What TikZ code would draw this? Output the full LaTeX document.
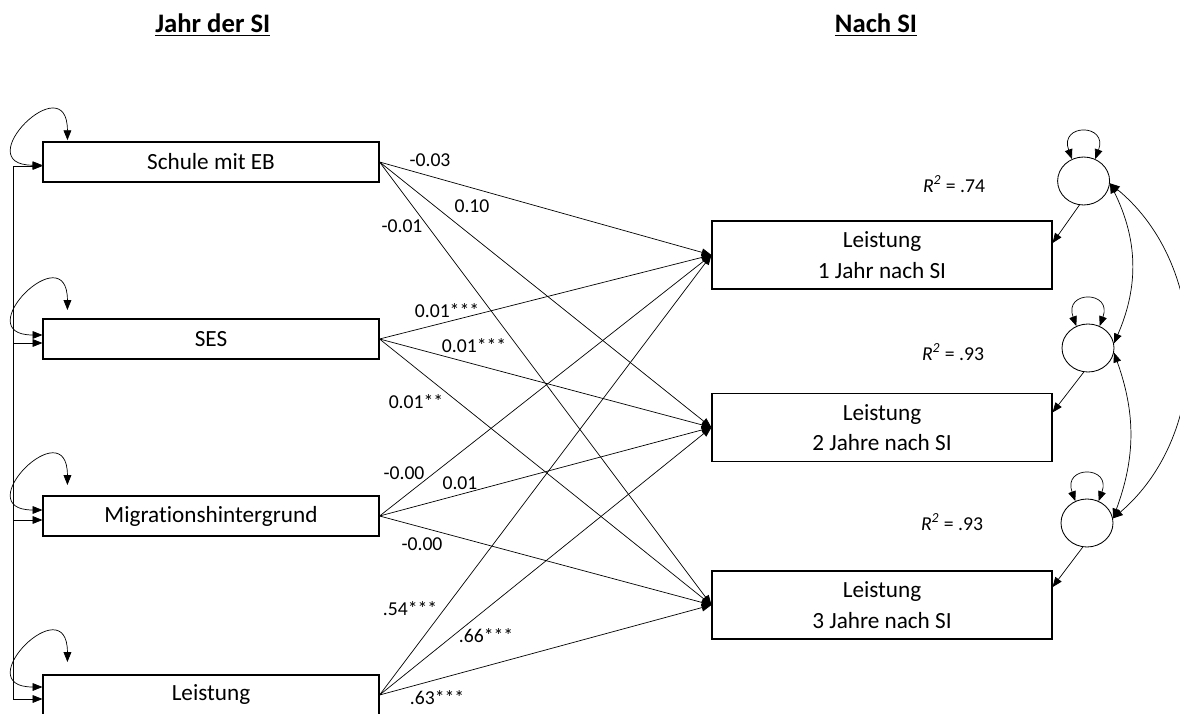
\documentclass[tikz,border=0pt]{standalone}
\usepackage{fontspec}
\setmainfont[Ligatures=NoCommon]{Carlito}
\usepackage{tikz}
\usetikzlibrary{arrows.meta, positioning, calc, shapes.geometric}
\tikzset{
  varbox/.style={rectangle, draw, line width=0.8pt, minimum width=8.4cm,
    minimum height=1.0cm, inner sep=0pt, font=\fontsize{16.5}{19}\selectfont},
  outbox/.style={rectangle, draw, line width=0.8pt, minimum width=8.5cm,
    minimum height=1.7cm, inner sep=0pt, align=center, font=\fontsize{16.5}{21.5}\selectfont},
  resid/.style={ellipse, draw, line width=0.6pt, minimum width=1.3cm,
    minimum height=1.2cm, inner sep=0pt},
  arrow/.style={-{Triangle[length=7pt,width=5.5pt]}, line width=0.5pt},
  dblarrow/.style={{Triangle[length=7pt,width=5.5pt]}-{Triangle[length=7pt,width=5.5pt]}, line width=0.5pt},
  line/.style={line width=0.5pt},
  coef/.style={inner sep=0pt, font=\fontsize{14}{16}\selectfont},
  heading/.style={inner sep=0pt, font=\fontsize{19}{22}\selectfont\bfseries}
}
\begin{document}
\begin{tikzpicture}
  \useasboundingbox (0,0) rectangle (29.5,17.825);

  % Headings
  \node[heading] (head1) at (5.32,17.2) {\underline{Jahr der SI}};
  \node[heading] (head2) at (21.9,17.2) {\underline{Nach SI}};

  % Predictors
  \node[varbox] (L1) at (5.275,13.775) {Schule mit EB};
  \node[varbox] (L2) at (5.275,9.35) {SES};
  \node[varbox] (L3) at (5.275,4.925) {Migrationshintergrund};
  \node[varbox] (L4) at (5.275,0.45) {Leistung};

  % Outcomes
  \node[outbox] (R1) at (22.05,11.45) {Leistung\\1 Jahr nach SI};
  \node[outbox] (R2) at (22.05,7.14) {Leistung\\2 Jahre nach SI};
  \node[outbox] (R3) at (22.05,2.7) {Leistung\\3 Jahre nach SI};

  % Residuals
  \node[resid] (E1) at (27.09,13.3) {};
  \node[resid] (E2) at (27.2,9.125) {};
  \node[resid] (E3) at (27.175,4.75) {};

  % Paths
  \foreach \i in {1,...,4}
    \foreach \j in {1,2,3}
      \draw[arrow] (L\i.east) -- (R\j.west);

  % Covariances among predictors
  \coordinate (bus) at (0.325,0);
  \foreach \i in {1,...,4}
    \coordinate (in\i) at ($(L\i.west)+(0,-0.1)$);
  \draw[line] (bus |- in1) -- (bus |- in4);
  \foreach \i in {1,...,4}
    \draw[arrow] (bus |- in\i) -- (in\i);

  % Variances
  \foreach \i/\dy in {1/-0.08, 2/0.1, 3/0.15, 4/0.2} {
    \coordinate (lp\i) at ($(L\i.west)+(0,\dy)$);
    \draw[dblarrow] ($(lp\i)+(0.625,0.625)$) .. controls +(0,1.9) and +(-1.9,0) .. (lp\i);
  }
  \foreach \k in {1,2,3}
    \draw[dblarrow] (E\k.118) to[out=110, in=70, looseness=4.2] (E\k.62);

  % Residual paths
  \draw[arrow] (E1.-100) -- (R1.4);
  \draw[arrow] (E2.-100) -- (R2.5);
  \draw[arrow] (E3.-100) -- (R3.6);

  % Residual covariances
  \draw[dblarrow] (E1.-5) to[bend left=25] (E2.10);
  \draw[dblarrow] (E2.-10) to[bend left=20] (E3.10);
  \draw[dblarrow] (E1.-5) to[bend left=50] (E3.10);

  % Coefficients
  \node[coef] (b11) at (10.75,13.825) {-0.03};
  \node[coef] (b12) at (11.8,12.675) {0.10};
  \node[coef] (b13) at (10.05,12.175) {-0.01};
  \node[coef] (b21) at (11.175,10.05) {0.01***};
  \node[coef] (b22) at (11.85,9.175) {0.01***};
  \node[coef] (b23) at (10.4,7.775) {0.01**};
  \node[coef] (b31) at (10.1,6.0) {-0.00};
  \node[coef] (b32) at (11.5,5.75) {0.01};
  \node[coef] (b33) at (10.55,4.225) {-0.00};
  \node[coef] (b41) at (10.25,2.6) {.54***};
  \node[coef] (b42) at (12.15,1.925) {.66***};
  \node[coef] (b43) at (10.925,0.375) {.63***};

  % Explained variance
  \node[coef] (rsq1) at (23.85,13.225) {\textit{R}\textsuperscript{\textit{2}} = .74};
  \node[coef] (rsq2) at (23.825,9.025) {\textit{R}\textsuperscript{\textit{2}} = .93};
  \node[coef] (rsq3) at (23.8,4.775) {\textit{R}\textsuperscript{\textit{2}} = .93};
\end{tikzpicture}
\end{document}
